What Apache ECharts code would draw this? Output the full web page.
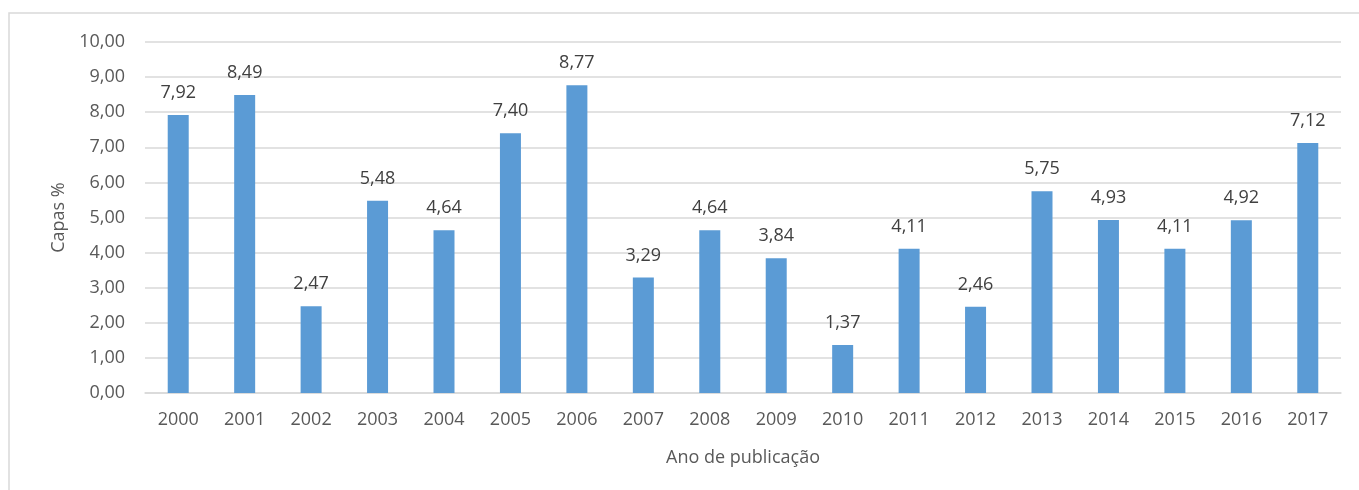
<!DOCTYPE html>
<html>
<head>
<meta charset="utf-8">
<script src="https://cdn.jsdelivr.net/npm/echarts@6/dist/echarts.min.js"></script>
<style>
  html, body { margin: 0; padding: 0; background: #fff; }
  #chart { width: 1359px; height: 490px; }
</style>
</head>
<body>
<div id="chart"></div>
<script>
// anos e valores
var anos = ['2000', '2001', '2002', '2003', '2004', '2005', '2006', '2007', '2008',
  '2009', '2010', '2011', '2012', '2013', '2014', '2015', '2016', '2017']
var capas = [7.92, 8.49, 2.47, 5.48, 4.64, 7.40, 8.77, 3.29, 4.64,
  3.84, 1.37, 4.11, 2.46, 5.75, 4.93, 4.11, 4.92, 7.12]

var fonte = 'Open Sans, Liberation Sans, sans-serif'
var tam = 18
var fmt = function (v) { return v.toFixed(2).replace('.', ',') }

var myChart = echarts.init(document.getElementById('chart'))
myChart.setOption({
  animation: false,
  // moldura da área do gráfico
  graphic: [{
    type: 'rect',
    shape: { x: 9, y: 13, width: 1400, height: 500 },
    style: { fill: 'none', stroke: '#D9D9D9', lineWidth: 1.5 },
    silent: true
  }],
  grid: { left: 145, right: 18, top: 42, bottom: 97 },
  xAxis: {
    type: 'category',
    data: anos,
    name: 'Ano de publicação',
    nameLocation: 'middle',
    nameGap: 56,
    nameTextStyle: { color: '#595959', fontSize: tam, fontFamily: fonte },
    axisTick: { show: false },
    axisLine: { lineStyle: { color: '#D9D9D9', width: 1.5 } },
    axisLabel: { color: '#595959', fontSize: tam, fontFamily: fonte, margin: 18 }
  },
  yAxis: {
    type: 'value',
    min: 0,
    max: 10,
    interval: 1,
    name: 'Capas %',
    nameLocation: 'middle',
    nameGap: 72,
    nameTextStyle: { color: '#595959', fontSize: tam, fontFamily: fonte },
    axisLine: { show: false },
    axisTick: { show: false },
    axisLabel: { color: '#595959', fontSize: tam, fontFamily: fonte, margin: 20, formatter: fmt },
    splitLine: { lineStyle: { color: '#D9D9D9', width: 1.5 } }
  },
  series: [{
    type: 'bar',
    data: capas,
    barWidth: 21,
    itemStyle: { color: '#5B9BD5' },
    label: {
      show: true,
      position: 'top',
      distance: 13,
      color: '#404040',
      fontSize: tam,
      fontFamily: fonte,
      formatter: function (p) { return fmt(p.value) }
    }
  }]
})
</script>
</body>
</html>
